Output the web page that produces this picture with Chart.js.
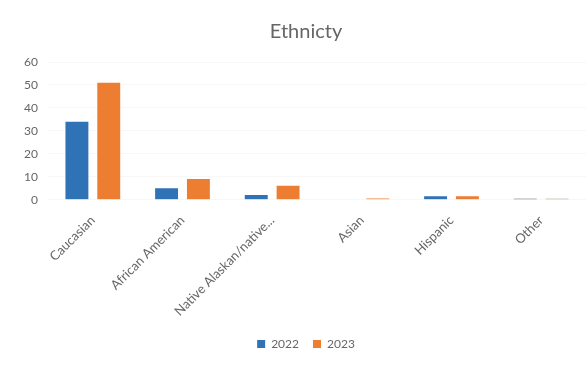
<!DOCTYPE html>
<html>
<head>
<meta charset="utf-8">
<script src="https://cdn.jsdelivr.net/npm/chart.js@4"></script>
<style>
    html, body { margin: 0; padding: 0; background: #ffffff; }
    #wrap { width: 586px; height: 365px; }
</style>
</head>
<body>
<div id="wrap"><canvas id="chart"></canvas></div>
<script>
const categories = ['Caucasian', 'African American', 'Native Alaskan/native...', 'Asian', 'Hispanic', 'Other'];
const values2022 = [34, 5, 2, 0, 1.5, 0.4];
const values2023 = [51, 9, 6, 0.5, 1.5, 0.4];
const yTicks = [0, 10, 20, 30, 40, 50, 60];

const textColor = '#666666';
const fontFamily = 'Lato, "Open Sans", sans-serif';

// the "Other" slivers look darker in the scan
const colors2022 = ['#2f72b5', '#2f72b5', '#2f72b5', '#2f72b5', '#2f72b5', '#4a4f57'];
const colors2023 = ['#ed7d31', '#ed7d31', '#ed7d31', '#ed7d31', '#ed7d31', '#8f8f6e'];

new Chart(document.getElementById('chart'), {
    type: 'bar',
    data: {
        labels: categories,
        datasets: [
            {
                label: '2022',
                data: values2022,
                backgroundColor: colors2022,
                barPercentage: 0.72,
                categoryPercentage: 0.71,
            },
            {
                label: '2023',
                data: values2023,
                backgroundColor: colors2023,
                barPercentage: 0.72,
                categoryPercentage: 0.71,
            },
        ],
    },
    options: {
        responsive: true,
        maintainAspectRatio: false,
        animation: false,
        // title and legend sit a bit right of the page centre in the original
        layout: { padding: { left: 26, right: 0, top: 16, bottom: 5 } },
        plugins: {
            title: {
                display: true,
                text: 'Ethnicty',
                color: textColor,
                font: { family: fontFamily, size: 20, weight: 'normal' },
                padding: { top: 4, bottom: 18 },
            },
            legend: {
                position: 'bottom',
                labels: {
                    color: textColor,
                    boxWidth: 8,
                    boxHeight: 8,
                    padding: 14,
                    font: { family: fontFamily, size: 12 },
                    generateLabels: (chart) =>
                        chart.data.datasets.map((ds, i) => ({
                            text: ds.label,
                            fillStyle: ds.backgroundColor[0],
                            strokeStyle: ds.backgroundColor[0],
                            lineWidth: 0,
                            fontColor: textColor,
                            hidden: false,
                            datasetIndex: i,
                        })),
                },
            },
            tooltip: { enabled: false },
        },
        scales: {
            x: {
                grid: { display: false },
                border: { display: false },
                ticks: {
                    color: textColor,
                    maxRotation: 45,
                    minRotation: 45,
                    autoSkip: false,
                    padding: 5,
                    font: { family: fontFamily, size: 13 },
                },
            },
            y: {
                min: 0,
                max: 60,
                afterBuildTicks: (axis) => {
                    axis.ticks = yTicks.map((v) => ({ value: v }));
                },
                // mirrored labels pushed back out to the left, so they are not clipped
                afterFit: (axis) => {
                    axis.width = 22;
                },
                grid: { color: 'rgba(0,0,0,0.03)', drawTicks: false },
                border: { display: false },
                ticks: {
                    color: textColor,
                    mirror: true,
                    crossAlign: 'far',
                    padding: -24,
                    font: { family: fontFamily, size: 12 },
                },
            },
        },
    },
});
</script>
</body>
</html>
